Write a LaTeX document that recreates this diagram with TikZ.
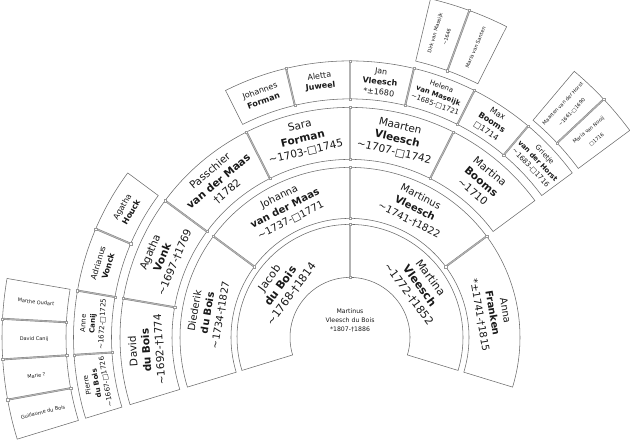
\documentclass[tikz,border=0pt]{standalone}
\usepackage{fontspec}
\setmainfont{DejaVu Sans}
\usetikzlibrary{calc}
\newcommand\bap{\textasciitilde}
\newcommand\fanbox[4]{\draw[boxline] (#1:#3pt) arc[start angle=#1,end angle=#2,radius=#3pt] -- (#2:#4pt) arc[start angle=#2,end angle=#1,radius=#4pt] -- cycle;}
\newcommand\fandiv[3]{\draw[divider] (#1:#2pt) -- (#1:#3pt);
  \draw[mk] (#1:#2pt) ++(-1.1pt,-1.1pt) rectangle ++(2.2pt,2.2pt);
  \draw[mk] (#1:#3pt) ++(-1.1pt,-1.1pt) rectangle ++(2.2pt,2.2pt);}
\begin{document}
\begin{tikzpicture}[x=1pt,y=1pt,
  boxline/.style={draw=black!58, line width=0.55pt},
  divider/.style={draw=black!50, line width=0.4pt, double=black!30, double distance=1.1pt},
  mk/.style={draw=black!40, line width=0.3pt, fill=white},
  txt/.style={align=center, inner sep=0pt, text=black!90},
  gA/.style={txt, font=\fontsize{11}{13.5}\selectfont},
  gB/.style={txt, font=\fontsize{10}{13}\selectfont},
  gC/.style={txt, font=\fontsize{10.5}{13.3}\selectfont},
  gD/.style={txt, font=\fontsize{8}{10.5}\selectfont},
  gDs/.style={txt, font=\fontsize{7}{9.5}\selectfont},
  gE/.style={txt, font=\fontsize{5}{12.5}\selectfont},
  gM/.style={txt, font=\fontsize{6.2}{9}\selectfont}]
\useasboundingbox (0,0) rectangle (630,440);
\begin{scope}[shift={(350,102.6)}]
% ring 2
\fanbox{197}{90}{60}{113}
\fanbox{90}{-17}{60}{113}
% ring 3
\fanbox{197}{143.5}{119}{170}
\fanbox{143.5}{90}{119}{170}
\fanbox{90}{36.5}{119}{170}
\fanbox{36.5}{-17}{119}{170}
% ring 4
\fanbox{197}{170.25}{178}{230}
\fanbox{170.25}{143.5}{178}{230}
\fanbox{143.5}{116.75}{178}{230}
\fanbox{116.75}{90}{178}{230}
\fanbox{90}{63.25}{178}{230}
\fanbox{63.25}{36.5}{178}{230}
% ring 5
\fanbox{197}{183.625}{238.5}{276.5}
\fanbox{183.625}{170.25}{238.5}{276.5}
\fanbox{170.25}{156.875}{238.5}{276.5}
\fanbox{156.875}{143.5}{238.5}{276.5}
\fanbox{116.75}{103.375}{238.5}{276.5}
\fanbox{103.375}{90}{238.5}{276.5}
\fanbox{90}{76.625}{238.5}{276.5}
\fanbox{76.625}{63.25}{238.5}{276.5}
\fanbox{63.25}{49.875}{238.5}{276.5}
\fanbox{49.875}{36.5}{238.5}{276.5}
% ring 6
\fanbox{197}{190.3125}{284}{348}
\fanbox{190.3125}{183.625}{284}{348}
\fanbox{183.625}{176.9375}{284}{348}
\fanbox{176.9375}{170.25}{284}{348}
\fanbox{76.625}{69.9375}{284}{348}
\fanbox{69.9375}{63.25}{284}{348}
\fanbox{49.875}{43.1875}{284}{348}
\fanbox{43.1875}{36.5}{284}{348}
% dividers
\fandiv{90}{60}{113}
\foreach \a in {143.5,90,36.5} {\fandiv{\a}{119}{170}}
\foreach \a in {170.25,143.5,116.75,90,63.25} {\fandiv{\a}{178}{230}}
\foreach \a in {183.625,170.25,156.875,103.375,90,76.625,63.25,49.875} {\fandiv{\a}{238.5}{276.5}}
\foreach \a in {190.3125,183.625,176.9375,69.9375,43.1875} {\fandiv{\a}{284}{348}}
% centre
\node[gM] (root) at (0,17) {Martinus\\Vleesch du Bois\\*1807-†1886};
% ring 2 texts
\node[gA, rotate=53.5] (p2) at (143.5:86.5pt) {Jacob\\\textbf{du Bois}\\\bap1768-†1814};
\node[gA, rotate=-53.5] (p3) at (36.5:86.5pt) {Martina\\\textbf{Vleesch}\\\bap1772-†1852};
% ring 3 texts
\node[gB, rotate=80.25] (p4) at (170.25:144.5pt) {Diederik\\\textbf{du Bois}\\\bap1734-†1827};
\node[gB, rotate=26.75] (p5) at (116.75:144.5pt) {Johanna\\\textbf{van der Maas}\\\bap1737-□1771};
\node[gB, rotate=-26.75] (p6) at (63.25:144.5pt) {Martinus\\\textbf{Vleesch}\\\bap1741-†1822};
\node[gB, rotate=-80.25] (p7) at (9.75:144.5pt) {Anna\\\textbf{Franken}\\*±1741-†1815};
% ring 4 texts
\node[gC, rotate=93.625] (p8) at (183.625:204pt) {David\\\textbf{du Bois}\\\bap1692-†1774};
\node[gC, rotate=66.875] (p9) at (156.875:204pt) {Agatha\\\textbf{Vonk}\\\bap1697-†1769};
\node[gC, rotate=40.125] (p10) at (130.125:204pt) {Passchier\\\textbf{van der Maas}\\†1782};
\node[gC, rotate=13.375] (p11) at (103.375:204pt) {Sara\\\textbf{Forman}\\\bap1703-□1745};
\node[gC, rotate=-13.375] (p12) at (76.625:204pt) {Maarten\\\textbf{Vleesch}\\\bap1707-□1742};
\node[gC, rotate=-40.125] (p13) at (49.875:204pt) {Martina\\\textbf{Booms}\\\bap1710};
% ring 5 texts
\node[gDs, rotate=100.3125] (p16) at (190.3125:257.5pt) {Pierre\\\textbf{du Bois}\\\bap1667-□1726};
\node[gDs, rotate=86.9375] (p17) at (176.9375:257.5pt) {Anne\\\textbf{Canij}\\\bap1672-□1725};
\node[gD, rotate=73.5625] (p18) at (163.5625:257.5pt) {Adrianus\\\textbf{Vonck}};
\node[gD, rotate=60.1875] (p19) at (150.1875:257.5pt) {Agatha\\\textbf{Houck}};
\node[gD, rotate=20.0625] (p22) at (110.0625:257.5pt) {Johannes\\\textbf{Forman}};
\node[gD, rotate=6.6875] (p23) at (96.6875:257.5pt) {Aletta\\\textbf{Juweel}};
\node[gD, rotate=-6.6875] (p24) at (83.3125:257.5pt) {Jan\\\textbf{Vleesch}\\*±1680};
\node[gDs, rotate=-20.0625] (p25) at (69.9375:257.5pt) {Helena\\\textbf{van Maseijk}\\\bap1685-□1721};
\node[gD, rotate=-33.4375] (p26) at (56.5625:257.5pt) {Max\\\textbf{Booms}\\□1714};
\node[gDs, rotate=-46.8125] (p27) at (43.1875:257.5pt) {Grietje\\\textbf{van der Horst}\\\bap1683-□1716};
% ring 6 texts
\node[gE, rotate=13.65625] (p32) at (193.65625:316pt) {Guillaume du Bois};
\node[gE, rotate=6.96875] (p33) at (186.96875:316pt) {Marie ?};
\node[gE, rotate=0.28125] (p34) at (180.28125:316pt) {David Canij};
\node[gE, rotate=-6.40625] (p35) at (173.59375:316pt) {Marthe Oudart};
\node[gE, rotate=73.28125] (p50) at (73.28125:316pt) {Dirk van Maseijk\\\bap1646};
\node[gE, rotate=66.59375] (p51) at (66.59375:316pt) {Maria van Santen};
\node[gE, rotate=46.53125] (p54) at (46.53125:316pt) {Maarten van der Horst\\\bap1661-□1690};
\node[gE, rotate=39.84375] (p55) at (39.84375:316pt) {Maria van Nooij\\□1716};
\end{scope}
\end{tikzpicture}
\end{document}
